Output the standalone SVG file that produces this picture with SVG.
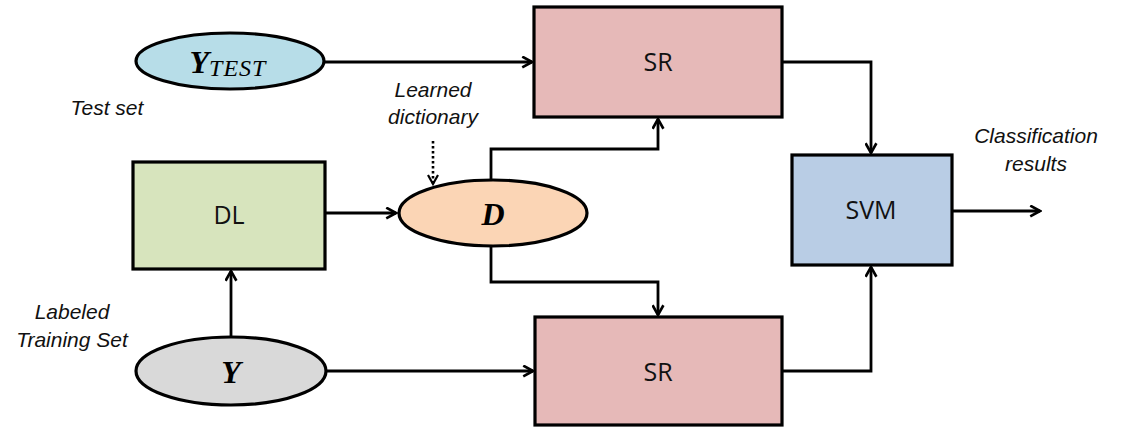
<svg xmlns="http://www.w3.org/2000/svg" width="1129" height="430" viewBox="0 0 1129 430">
  <defs>
    <marker id="arrow" viewBox="0 0 12 12" refX="10" refY="6" markerWidth="13" markerHeight="13" markerUnits="userSpaceOnUse" orient="auto">
      <path d="M1,1 L10,6 L1,11" fill="none" stroke="#000" stroke-width="2.4"/>
    </marker>
    <marker id="arrowDot" viewBox="0 0 12 12" refX="10" refY="6" markerWidth="12" markerHeight="12" markerUnits="userSpaceOnUse" orient="auto">
      <path d="M1,1 L10,6 L1,11" fill="none" stroke="#000" stroke-width="2.2"/>
    </marker>
  </defs>
  <style>
    .box { stroke: #000; stroke-width: 3.2; }
    .lbl { font-family: "Open Sans", "Liberation Sans", sans-serif; font-size: 25px; fill: #111; text-anchor: middle; }
    .math { font-family: "Liberation Serif", "DejaVu Serif", serif; font-style: italic; font-weight: bold; fill: #000; text-anchor: middle; }
    .note { font-family: "Liberation Sans", Arial, sans-serif; font-style: italic; font-size: 21px; fill: #111; text-anchor: middle; }
    .wire { fill: none; stroke: #000; stroke-width: 2.8; }
  </style>

  <rect width="1129" height="430" fill="#fff"/>

  <!-- connectors -->
  <g id="connectors">
    <path class="wire" d="M325,62 H532" marker-end="url(#arrow)"/>
    <path class="wire" d="M491,180 V149 H658 V119" marker-end="url(#arrow)"/>
    <path class="wire" d="M491,246 V282 H658 V315" marker-end="url(#arrow)"/>
    <path class="wire" d="M326,371 H533" marker-end="url(#arrow)"/>
    <path class="wire" d="M325,213 H396" marker-end="url(#arrow)"/>
    <path class="wire" d="M231,336 V271" marker-end="url(#arrow)"/>
    <path class="wire" d="M782,62 H871 V153" marker-end="url(#arrow)"/>
    <path class="wire" d="M782,371 H871 V267" marker-end="url(#arrow)"/>
    <path class="wire" d="M952,211 H1040" marker-end="url(#arrow)"/>
    <path d="M433,141 V184" fill="none" stroke="#000" stroke-width="2.6" stroke-dasharray="2.5 2.5" marker-end="url(#arrowDot)"/>
  </g>

  <g id="ytest">
    <ellipse class="box" cx="230" cy="61" rx="94" ry="28" fill="#b7dde8"/>
    <text class="math" x="228" y="73"><tspan font-size="32">Y</tspan><tspan font-size="24" font-weight="normal" dy="3" letter-spacing="1">TEST</tspan></text>
  </g>

  <g id="dl">
    <rect class="box" x="133" y="162" width="192" height="107" fill="#d7e4bd"/>
    <text class="lbl" x="229" y="224">DL</text>
  </g>

  <g id="d">
    <ellipse class="box" cx="493" cy="213" rx="94" ry="33" fill="#fbd5b5"/>
    <text class="math" x="493" y="225" font-size="32">D</text>
  </g>

  <g id="y">
    <ellipse class="box" cx="231" cy="371" rx="95" ry="34" fill="#d9d9d9"/>
    <text class="math" x="231" y="383" font-size="32">Y</text>
  </g>

  <g id="sr-top">
    <rect class="box" x="534" y="7" width="248" height="110" fill="#e6b9b8"/>
    <text class="lbl" x="658" y="71">SR</text>
  </g>

  <g id="sr-bottom">
    <rect class="box" x="535" y="317" width="247" height="108" fill="#e6b9b8"/>
    <text class="lbl" x="658" y="381">SR</text>
  </g>

  <g id="svm">
    <rect class="box" x="792" y="155" width="160" height="110" fill="#b9cde5"/>
    <text class="lbl" x="871" y="219">SVM</text>
  </g>

  <g id="notes">
    <text class="note" x="107" y="115">Test set</text>
    <text class="note" x="433" y="97">Learned</text>
    <text class="note" x="433" y="124">dictionary</text>
    <text class="note" x="1036" y="143">Classification</text>
    <text class="note" x="1036" y="171">results</text>
    <text class="note" x="72" y="319">Labeled</text>
    <text class="note" x="72" y="347">Training Set</text>
  </g>
</svg>
